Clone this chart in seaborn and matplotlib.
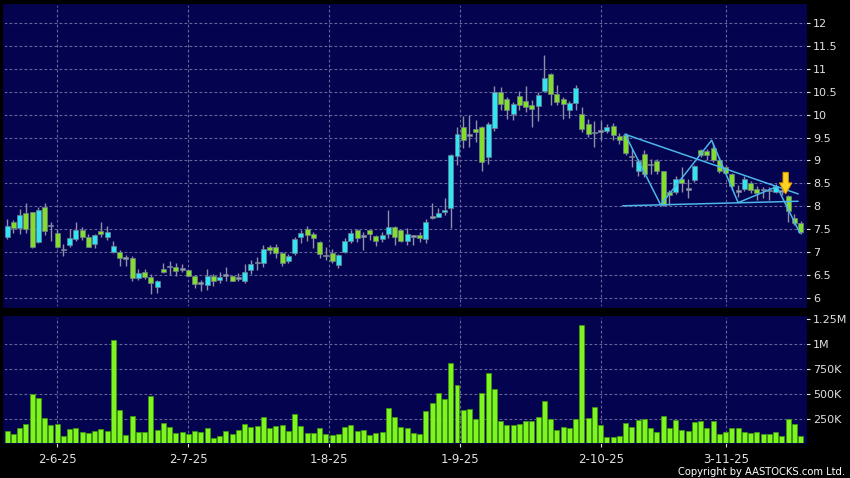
import matplotlib
matplotlib.use("Agg")
import matplotlib.pyplot as plt
import numpy as np
import pandas as pd
import seaborn as sns

# daily candles, oldest first
opens = [7.34, 7.65, 7.52, 7.85, 7.87, 7.23, 7.98, 7.56, 7.41, 7.04,
         7.15, 7.28, 7.49, 7.34, 7.17, 7.46, 7.33, 7.00, 7.00, 6.86,
         6.87, 6.44, 6.56, 6.45, 6.24, 6.63, 6.67, 6.67, 6.61, 6.60,
         6.49, 6.31, 6.29, 6.47, 6.40, 6.49, 6.49, 6.42, 6.36, 6.60,
         6.76, 6.76, 7.12, 7.12, 6.98, 6.80, 6.98, 7.33, 7.50, 7.40,
         7.23, 6.91, 6.98, 6.71, 7.01, 7.25, 7.49, 7.33, 7.49, 7.36,
         7.29, 7.39, 7.54, 7.49, 7.25, 7.33, 7.37, 7.28, 7.75, 7.77,
         7.88, 7.97, 9.09, 9.74, 9.54, 9.69, 9.74, 9.07, 9.71, 10.49,
         10.33, 10.01, 10.41, 10.29, 10.21, 10.18, 10.52, 10.88, 10.46, 10.33,
         10.10, 10.25, 10.01, 9.80, 9.59, 9.63, 9.64, 9.76, 9.54, 9.56,
         9.07, 8.78, 9.15, 8.89, 8.99, 8.77, 8.31, 8.31, 8.60, 8.36,
         8.57, 9.22, 9.20, 9.27, 9.00, 8.86, 8.71, 8.31, 8.38, 8.51,
         8.38, 8.35, 8.33, 8.31, 8.31, 8.22, 7.75, 7.64]
highs = [7.72, 7.70, 7.94, 8.07, 7.88, 7.98, 8.07, 7.65, 7.50, 7.18,
         7.50, 7.65, 7.54, 7.40, 7.40, 7.65, 7.57, 7.25, 7.05, 6.94,
         6.92, 6.63, 6.63, 6.52, 6.40, 6.76, 6.81, 6.76, 6.75, 6.63,
         6.51, 6.40, 6.63, 6.53, 6.56, 6.67, 6.51, 6.54, 6.75, 6.83,
         6.89, 7.16, 7.15, 7.18, 7.01, 6.96, 7.34, 7.49, 7.56, 7.43,
         7.25, 7.11, 7.07, 6.96, 7.30, 7.49, 7.50, 7.43, 7.49, 7.38,
         7.43, 7.92, 7.56, 7.49, 7.52, 7.38, 7.44, 7.73, 8.08, 7.97,
         8.17, 9.15, 9.73, 9.98, 10.00, 9.88, 9.76, 9.83, 10.63, 10.61,
         10.39, 10.27, 10.52, 10.63, 10.32, 10.49, 11.30, 10.91, 10.65, 10.39,
         10.30, 10.65, 10.17, 9.91, 9.85, 9.85, 9.80, 9.81, 9.59, 9.59,
         9.25, 9.04, 9.23, 9.04, 9.04, 8.78, 8.35, 8.67, 8.86, 8.60,
         8.89, 9.25, 9.25, 9.38, 9.07, 8.89, 8.73, 8.46, 8.65, 8.55,
         8.44, 8.42, 8.41, 8.49, 8.40, 8.24, 7.84, 7.68]
lows = [7.28, 7.41, 7.39, 7.41, 7.09, 7.21, 7.38, 7.25, 7.09, 6.91,
        7.12, 7.25, 7.27, 7.11, 7.09, 7.33, 7.27, 6.99, 6.69, 6.70,
        6.36, 6.40, 6.41, 6.09, 6.11, 6.54, 6.51, 6.47, 6.56, 6.47,
        6.22, 6.15, 6.18, 6.27, 6.33, 6.36, 6.36, 6.36, 6.33, 6.52,
        6.62, 6.67, 6.96, 6.88, 6.69, 6.76, 6.94, 7.20, 7.25, 7.09,
        6.87, 6.83, 6.76, 6.65, 6.98, 7.20, 7.23, 7.04, 7.27, 7.14,
        7.23, 7.30, 7.16, 7.23, 7.16, 7.16, 7.22, 7.20, 7.72, 7.76,
        7.82, 7.53, 8.89, 9.28, 9.29, 9.40, 8.77, 8.93, 9.64, 10.11,
        9.91, 9.88, 10.09, 10.05, 9.74, 9.87, 10.49, 10.20, 10.20, 9.91,
        9.93, 10.09, 9.62, 9.51, 9.29, 9.44, 9.60, 9.44, 9.36, 9.11,
        8.86, 8.67, 8.64, 8.71, 8.71, 8.00, 8.02, 8.26, 8.31, 8.17,
        8.53, 9.07, 9.00, 8.96, 8.73, 8.70, 8.36, 8.20, 8.33, 8.29,
        8.13, 8.17, 8.13, 8.28, 8.25, 7.66, 7.59, 7.39]
closes = [7.56, 7.52, 7.80, 7.50, 7.11, 7.91, 7.45, 7.56, 7.11, 7.04,
          7.30, 7.49, 7.33, 7.12, 7.37, 7.39, 7.44, 7.13, 6.87, 6.86,
          6.44, 6.54, 6.46, 6.33, 6.36, 6.57, 6.67, 6.59, 6.61, 6.49,
          6.30, 6.31, 6.47, 6.36, 6.46, 6.49, 6.38, 6.42, 6.56, 6.74,
          6.76, 7.07, 7.04, 6.98, 6.76, 6.92, 7.28, 7.41, 7.38, 7.30,
          6.96, 6.91, 6.80, 6.94, 7.25, 7.41, 7.30, 7.33, 7.39, 7.25,
          7.38, 7.54, 7.34, 7.25, 7.39, 7.33, 7.30, 7.65, 7.75, 7.86,
          7.92, 9.11, 9.58, 9.44, 9.54, 9.62, 8.96, 9.80, 10.49, 10.23,
          10.09, 10.23, 10.21, 10.16, 10.12, 10.43, 10.80, 10.44, 10.27, 10.23,
          10.25, 10.57, 9.69, 9.58, 9.59, 9.63, 9.74, 9.56, 9.45, 9.16,
          9.07, 8.98, 8.71, 8.89, 8.76, 8.02, 8.24, 8.59, 8.51, 8.36,
          8.87, 9.11, 9.12, 9.01, 8.78, 8.73, 8.44, 8.31, 8.60, 8.35,
          8.29, 8.35, 8.33, 8.44, 8.31, 7.90, 7.64, 7.44]
# volume in thousands of shares
volumes_k = [123, 97, 157, 197, 497, 457, 257, 183, 197, 80,
             147, 157, 117, 110, 130, 150, 130, 1040, 333, 90,
             273, 117, 117, 473, 133, 207, 163, 107, 117, 97,
             127, 117, 160, 60, 80, 127, 97, 137, 200, 170,
             173, 270, 157, 175, 190, 130, 293, 180, 107, 107,
             160, 97, 83, 100, 167, 183, 123, 140, 90, 107,
             113, 357, 263, 163, 160, 110, 93, 327, 403, 507,
             447, 813, 590, 340, 350, 250, 513, 713, 550, 223,
             190, 190, 200, 223, 230, 267, 432, 250, 140, 167,
             157, 247, 1190, 260, 367, 187, 63, 67, 80, 203,
             170, 237, 243, 160, 117, 280, 160, 237, 137, 127,
             213, 230, 153, 230, 100, 117, 157, 160, 120, 110,
             120, 97, 97, 117, 73, 250, 197, 73]

# axis labels
date_labels = ["2-6-25", "2-7-25", "1-8-25", "1-9-25", "2-10-25", "3-11-25"]
date_pos = [8, 29, 51.5, 72.5, 95, 115]
price_ticks = [6, 6.5, 7, 7.5, 8, 8.5, 9, 9.5, 10, 10.5, 11, 11.5, 12]
vol_ticks_k = [250, 500, 750, 1000, 1250]
vol_labels = ["250K", "500K", "750K", "1M", "1.25M"]

# triangle pattern drawn over the last weeks
upper_x = [98.9, 126.6]
upper_y = [9.57, 8.27]
lower_x = [98.5, 126.6]
lower_y = [8.01, 8.11]
zigzag_x = [98.9, 104.6, 112.75, 117, 123.2, 126.9]
zigzag_y = [9.57, 8.03, 9.44, 8.08, 8.43, 7.41]
signal_x = 124.6
signal_top = 8.74
signal_tip = 8.27

# colours
BG = "#03034f"
UP = "#2fe6f2"
DOWN = "#82de2a"
FLAT = "#9c9cb6"
WICK = "#8e8ea8"
VOL = "#7ff520"
GRID = "#66669a"
LINE = "#4cb6ea"

df = pd.DataFrame({"open": opens, "high": highs, "low": lows,
                   "close": closes, "volume": np.array(volumes_k) * 1000})
df["idx"] = np.arange(len(df))
df["body_lo"] = df[["open", "close"]].min(axis=1)
df["body_h"] = (df["close"] - df["open"]).abs().clip(lower=0.035)
df["colour"] = np.where(df["close"] > df["open"], UP,
                        np.where(df["close"] < df["open"], DOWN, FLAT))

sns.set_theme(style="dark", rc={
    "figure.facecolor": "black",
    "axes.facecolor": BG,
    "axes.edgecolor": BG,
    "grid.color": GRID,
    "grid.linestyle": (0, (2.5, 2)),
    "grid.linewidth": 0.8,
    "xtick.color": "#e0e0e0",
    "ytick.color": "#e0e0e0",
    "text.color": "white",
})
plt.rcParams["font.family"] = ["DejaVu Sans"]

fig = plt.figure(figsize=(8.5, 4.78), dpi=100)
ax = fig.add_axes([0.0047, 0.3584, 0.9435, 0.6311])
axv = fig.add_axes([0.0047, 0.0722, 0.9435, 0.2640])

#---- price panel ----
ax.vlines(df["idx"], df["low"], df["high"], color=WICK, lw=1.0, zorder=2)
ax.bar(df["idx"], df["body_h"], bottom=df["body_lo"], width=0.8,
       color=df["colour"], edgecolor="#6f7f90", linewidth=0.5, zorder=3)

ax.plot(upper_x, upper_y, color=LINE, lw=1.1, zorder=4)
ax.plot(lower_x, lower_y, color=LINE, lw=1.1, zorder=4)
ax.plot(zigzag_x, zigzag_y, color=LINE, lw=1.1, zorder=4)
ax.arrow(signal_x, signal_top, 0, signal_tip - signal_top, width=0.85,
         head_width=2.0, head_length=0.24, length_includes_head=True,
         fc="#ffd21f", ec="#e39a00", lw=0.7, zorder=5)

ax.set_xlim(-0.5, 127.85)
ax.set_ylim(5.81, 12.39)
ax.yaxis.tick_right()
ax.set_yticks(price_ticks, labels=[f"{t:g}" for t in price_ticks])
ax.set_xticks(date_pos)
ax.tick_params(axis="x", length=0, labelbottom=False)
ax.tick_params(axis="y", length=3, width=0.8, pad=2, labelsize=8, right=True)
ax.grid(True)

#---- volume panel ----
sns.barplot(data=df, x="idx", y="volume", native_scale=True, color=VOL,
            saturation=1, width=0.8, edgecolor="#3f9a08", linewidth=0.5,
            errorbar=None, ax=axv, zorder=3)
axv.set_xlim(-0.5, 127.85)
axv.set_ylim(0, 1.27e6)
axv.yaxis.tick_right()
axv.set_yticks(np.array(vol_ticks_k) * 1000, labels=vol_labels)
axv.set_xticks(date_pos, labels=date_labels)
axv.tick_params(axis="y", length=3, width=0.8, pad=2, labelsize=8, right=True)
axv.tick_params(axis="x", length=3, width=0.8, pad=4, labelsize=8.5, bottom=True)
axv.set_xlabel("")
axv.set_ylabel("")
axv.grid(True)
axv.yaxis.get_gridlines()[-1].set_visible(False)

fig.text(0.994, 0.006, "Copyright by AASTOCKS.com Ltd.", ha="right",
         va="baseline", fontsize=7.2, color="white")

fig.savefig("out.png", dpi=100, facecolor="black")
